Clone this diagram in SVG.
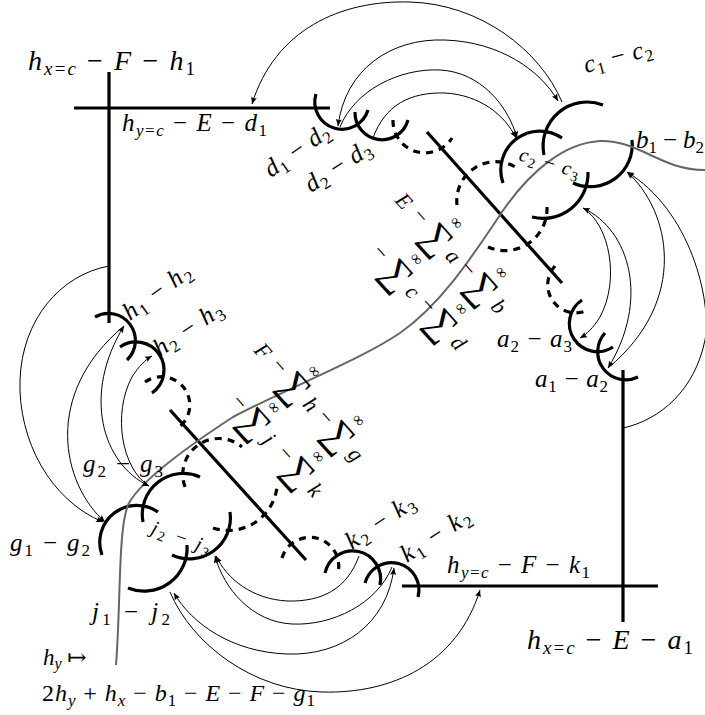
<svg xmlns="http://www.w3.org/2000/svg" width="705" height="715" viewBox="0 0 705 715">
<defs>
<style>
.k{fill:none;stroke:#000;stroke-width:3.2}
.kd{fill:none;stroke:#000;stroke-width:3.2;stroke-dasharray:7 6}
.g{fill:none;stroke:#666;stroke-width:2}
.a{fill:none;stroke:#000;stroke-width:1;marker-end:url(#ah)}
.b{marker-start:url(#ah)}
.s{font-size:38px;text-anchor:middle}
.inf{font-size:16px;text-anchor:middle}
</style>
<marker id="ah" viewBox="-8 -4 10 8" refX="0" refY="0" markerWidth="10" markerHeight="8" orient="auto-start-reverse" markerUnits="userSpaceOnUse"><path d="M0,0 L-7,-3 Q-5,0 -7,3 Z" fill="#000"/></marker>
</defs>
<rect width="705" height="715" fill="#fff"/>

<g id="frame-lines">
<path class="k" d="M74,108 H330 M109,72 V323"/>
<path class="k" d="M402,586 H658 M623,370 V622"/>
<path class="k" d="M427,132 L562,283"/>
<path class="k" d="M170,410 L306,560"/>
</g>

<g id="chain-d">
<path class="k" d="M316,94 A27,27 0 0 0 368,110"/>
<path class="k" d="M355,112 A27,27 0 0 0 408,120"/>
<path class="kd" d="M393,120 A32,32 0 0 0 452,138"/>
</g>
<g id="chain-c">
<path class="kd" d="M457,205 A39,39 0 0 1 517,168"/>
<path class="k" d="M503,183 A39,39 0 0 1 562,138"/>
<path class="k" d="M544,155 A44,44 0 0 1 603,105"/>
</g>
<g id="chain-b">
<path class="k" d="M573,183 A42,42 0 0 0 632,140"/>
<path class="k" d="M588,172 A45,45 0 0 1 532,217"/>
<path class="kd" d="M547,207 A42,42 0 0 1 488,247"/>
</g>
<g id="chain-a">
<path class="kd" d="M555,266 A28,28 0 0 0 588,310"/>
<path class="k" d="M582,300 A28,28 0 0 0 613,347"/>
<path class="k" d="M605,333 A28,28 0 0 0 638,377"/>
</g>
<g id="chain-h">
<path class="k" d="M95,317 A27,27 0 0 1 127,360"/>
<path class="k" d="M120,347 A28,28 0 0 1 152,393"/>
<path class="kd" d="M145,382 A28,28 0 0 1 178,428"/>
</g>
<g id="chain-g">
<path class="kd" d="M185,487 A36,36 0 0 1 242,447"/>
<path class="k" d="M143,522 A41,41 0 0 1 200,477"/>
<path class="k" d="M102,555 A37,37 0 0 1 158,512"/>
</g>
<g id="chain-j">
<path class="k" d="M230,512 A41,41 0 0 1 172,555"/>
<path class="k" d="M187,545 A43,43 0 0 1 128,588"/>
<path class="kd" d="M213,528 A49,49 0 0 0 277,487"/>
</g>
<g id="chain-k">
<path class="kd" d="M282,558 A29,29 0 0 1 338,573"/>
<path class="k" d="M325,573 A28,28 0 0 1 380,585"/>
<path class="k" d="M365,583 A27,27 0 0 1 418,597"/>
</g>

<path id="gray-curve" class="g" d="M116,665 C121,600 118,530 128,505 C140,480 190,445 233,417 C290,387 360,360 400,333 C440,305 470,260 500,215 C530,170 565,143 600,141 C640,140 660,170 705,170"/>

<g id="connectors">
<path class="a" d="M562,102 C540,50 480,4 410,2 C340,0 275,30 252,104"/>
<path class="a b" d="M558,101 C540,70 500,42 445,40 C390,38 345,70 338,126"/>
<path class="a" d="M340,127 C355,90 400,68 440,70 C480,72 508,105 517,138"/>
<path class="a" d="M373,138 C385,105 410,92 445,93 C480,95 505,115 516,138"/>
<path class="a" d="M583,208 C610,225 620,280 600,317 C593,328 587,334 580,338"/>
<path class="a b" d="M583,208 C630,230 650,300 608,368"/>
<path class="a" d="M608,368 C690,300 670,210 627,172"/>
<path class="a" d="M623,428 C660,420 695,390 705,340 C712,300 690,210 627,172"/>
<path class="a" d="M149,486 C122,469 112,414 132,377 C139,366 145,360 152,356"/>
<path class="a b" d="M149,486 C102,464 82,394 124,326"/>
<path class="a" d="M124,326 C42,394 62,484 105,522"/>
<path class="a" d="M109,266 C60,275 22,320 20,380 C18,440 50,500 103,522"/>
<path class="a" d="M170,592 C192,644 252,690 322,692 C392,694 457,664 480,590"/>
<path class="a b" d="M174,593 C192,624 232,652 287,654 C342,656 387,624 394,568"/>
<path class="a" d="M392,567 C377,604 332,626 292,624 C252,622 224,589 215,556"/>
<path class="a" d="M359,556 C347,589 322,602 287,601 C252,599 227,579 216,556"/>
</g>

<g id="labels" font-family="'Liberation Serif', 'DejaVu Serif', serif" fill="#000">
<text x="28" y="70" font-size="28" textLength="167" lengthAdjust="spacing"><tspan font-style="italic">h</tspan><tspan font-style="italic" font-size="19" dy="5">x</tspan><tspan font-size="19">=</tspan><tspan font-style="italic" font-size="19">c</tspan><tspan dy="-5"> − </tspan><tspan font-style="italic">F</tspan> − <tspan font-style="italic">h</tspan><tspan font-size="19" dy="5">1</tspan></text>
<text x="122" y="131" font-size="25" textLength="145" lengthAdjust="spacing"><tspan font-style="italic">h</tspan><tspan font-style="italic" font-size="17" dy="5">y</tspan><tspan font-size="17">=</tspan><tspan font-style="italic" font-size="17">c</tspan><tspan dy="-5"> − </tspan><tspan font-style="italic">E</tspan> − <tspan font-style="italic">d</tspan><tspan font-size="17" dy="5">1</tspan></text>
<text x="527" y="649" font-size="28" textLength="166" lengthAdjust="spacing"><tspan font-style="italic">h</tspan><tspan font-style="italic" font-size="19" dy="5">x</tspan><tspan font-size="19">=</tspan><tspan font-style="italic" font-size="19">c</tspan><tspan dy="-5"> − </tspan><tspan font-style="italic">E</tspan> − <tspan font-style="italic">a</tspan><tspan font-size="19" dy="5">1</tspan></text>
<text x="447" y="573" font-size="25" textLength="143" lengthAdjust="spacing"><tspan font-style="italic">h</tspan><tspan font-style="italic" font-size="17" dy="5">y</tspan><tspan font-size="17">=</tspan><tspan font-style="italic" font-size="17">c</tspan><tspan dy="-5"> − </tspan><tspan font-style="italic">F</tspan> − <tspan font-style="italic">k</tspan><tspan font-size="17" dy="5">1</tspan></text>

<text transform="translate(586,73) rotate(-15)" font-size="25" textLength="70" lengthAdjust="spacing"><tspan font-style="italic">c</tspan><tspan font-size="17" dy="5">1</tspan><tspan dy="-5"> − </tspan><tspan font-style="italic">c</tspan><tspan font-size="17" dy="5">2</tspan></text>
<text x="636" y="148" font-size="25" textLength="68" lengthAdjust="spacing"><tspan font-style="italic">b</tspan><tspan font-size="17" dy="5">1</tspan><tspan dy="-5"> − </tspan><tspan font-style="italic">b</tspan><tspan font-size="17" dy="5">2</tspan></text>
<text transform="translate(271,178) rotate(-35)" font-size="25" textLength="74" lengthAdjust="spacing"><tspan font-style="italic">d</tspan><tspan font-size="17" dy="5">1</tspan><tspan dy="-5"> − </tspan><tspan font-style="italic">d</tspan><tspan font-size="17" dy="5">2</tspan></text>
<text transform="translate(311,193) rotate(-33)" font-size="25" textLength="74" lengthAdjust="spacing"><tspan font-style="italic">d</tspan><tspan font-size="17" dy="5">2</tspan><tspan dy="-5"> − </tspan><tspan font-style="italic">d</tspan><tspan font-size="17" dy="5">3</tspan></text>
<text transform="translate(518,160) rotate(17)" font-size="20" textLength="62" lengthAdjust="spacing"><tspan font-style="italic">c</tspan><tspan font-size="14" dy="4">2</tspan><tspan dy="-4"> − </tspan><tspan font-style="italic">c</tspan><tspan font-size="14" dy="4">3</tspan></text>
<text x="497" y="347" font-size="25" textLength="75" lengthAdjust="spacing"><tspan font-style="italic">a</tspan><tspan font-size="17" dy="5">2</tspan><tspan dy="-5"> − </tspan><tspan font-style="italic">a</tspan><tspan font-size="17" dy="5">3</tspan></text>
<text x="535" y="387" font-size="25" textLength="73" lengthAdjust="spacing"><tspan font-style="italic">a</tspan><tspan font-size="17" dy="5">1</tspan><tspan dy="-5"> − </tspan><tspan font-style="italic">a</tspan><tspan font-size="17" dy="5">2</tspan></text>
<text transform="translate(130,321) rotate(-36)" font-size="25" textLength="78" lengthAdjust="spacing"><tspan font-style="italic">h</tspan><tspan font-size="17" dy="5">1</tspan><tspan dy="-5"> − </tspan><tspan font-style="italic">h</tspan><tspan font-size="17" dy="5">2</tspan></text>
<text transform="translate(160,357) rotate(-34)" font-size="25" textLength="78" lengthAdjust="spacing"><tspan font-style="italic">h</tspan><tspan font-size="17" dy="5">2</tspan><tspan dy="-5"> − </tspan><tspan font-style="italic">h</tspan><tspan font-size="17" dy="5">3</tspan></text>
<text x="83" y="472" font-size="25" textLength="80" lengthAdjust="spacing"><tspan font-style="italic">g</tspan><tspan font-size="17" dy="5">2</tspan><tspan dy="-5"> − </tspan><tspan font-style="italic">g</tspan><tspan font-size="17" dy="5">3</tspan></text>
<text x="10" y="551" font-size="25" textLength="80" lengthAdjust="spacing"><tspan font-style="italic">g</tspan><tspan font-size="17" dy="5">1</tspan><tspan dy="-5"> − </tspan><tspan font-style="italic">g</tspan><tspan font-size="17" dy="5">2</tspan></text>
<text transform="translate(150,533) rotate(20)" font-size="20" textLength="62" lengthAdjust="spacing"><tspan font-style="italic">j</tspan><tspan font-size="14" dy="4">2</tspan><tspan dy="-4"> − </tspan><tspan font-style="italic">j</tspan><tspan font-size="14" dy="4">3</tspan></text>
<text x="92" y="620" font-size="25" textLength="78" lengthAdjust="spacing"><tspan font-style="italic">j</tspan><tspan font-size="17" dy="5">1</tspan><tspan dy="-5"> − </tspan><tspan font-style="italic">j</tspan><tspan font-size="17" dy="5">2</tspan></text>
<text transform="translate(352,550) rotate(-34)" font-size="25" textLength="78" lengthAdjust="spacing"><tspan font-style="italic">k</tspan><tspan font-size="17" dy="5">2</tspan><tspan dy="-5"> − </tspan><tspan font-style="italic">k</tspan><tspan font-size="17" dy="5">3</tspan></text>
<text transform="translate(407,563) rotate(-33)" font-size="25" textLength="78" lengthAdjust="spacing"><tspan font-style="italic">k</tspan><tspan font-size="17" dy="5">1</tspan><tspan dy="-5"> − </tspan><tspan font-style="italic">k</tspan><tspan font-size="17" dy="5">2</tspan></text>
<text x="43" y="665" font-size="23"><tspan font-style="italic">h</tspan><tspan font-style="italic" font-size="16" dy="4">y</tspan><tspan dy="-4"> ↦</tspan></text>
<text x="42" y="701" font-size="24" textLength="273" lengthAdjust="spacing">2<tspan font-style="italic">h</tspan><tspan font-style="italic" font-size="17" dy="5">y</tspan><tspan dy="-5"> + </tspan><tspan font-style="italic">h</tspan><tspan font-style="italic" font-size="17" dy="5">x</tspan><tspan dy="-5"> − </tspan><tspan font-style="italic">b</tspan><tspan font-size="17" dy="5">1</tspan><tspan dy="-5"> − </tspan><tspan font-style="italic">E</tspan> − <tspan font-style="italic">F</tspan> − <tspan font-style="italic">g</tspan><tspan font-size="17" dy="5">1</tspan></text>

<g id="sum-E" transform="translate(394,201) rotate(48)" font-size="22">
<text x="0" y="0" font-style="italic">E</text>
<text x="23" y="-3">−</text>
<text class="s" x="57" y="5">∑</text>
<text class="inf" x="58" y="-27">∞</text>
<text x="75" y="0" font-style="italic">a</text>
<text x="94" y="-3">−</text>
<text class="s" x="124" y="5">∑</text>
<text class="inf" x="125" y="-27">∞</text>
<text x="143" y="0" font-style="italic">b</text>
<text x="23" y="51">−</text>
<text class="s" x="57" y="59">∑</text>
<text class="inf" x="58" y="27">∞</text>
<text x="75" y="54" font-style="italic">c</text>
<text x="94" y="51">−</text>
<text class="s" x="124" y="59">∑</text>
<text class="inf" x="125" y="27">∞</text>
<text x="143" y="54" font-style="italic">d</text>
</g>
<g id="sum-F" transform="translate(253,351) rotate(48)" font-size="22">
<text x="0" y="0" font-style="italic">F</text>
<text x="23" y="-3">−</text>
<text class="s" x="55" y="5">∑</text>
<text class="inf" x="56" y="-27">∞</text>
<text x="73" y="0" font-style="italic">h</text>
<text x="92" y="-3">−</text>
<text class="s" x="121" y="5">∑</text>
<text class="inf" x="122" y="-27">∞</text>
<text x="140" y="0" font-style="italic">g</text>
<text x="23" y="51">−</text>
<text class="s" x="55" y="59">∑</text>
<text class="inf" x="56" y="27">∞</text>
<text x="73" y="54" font-style="italic">j</text>
<text x="92" y="51">−</text>
<text class="s" x="121" y="59">∑</text>
<text class="inf" x="122" y="27">∞</text>
<text x="140" y="54" font-style="italic">k</text>
</g>
</g>
</svg>
